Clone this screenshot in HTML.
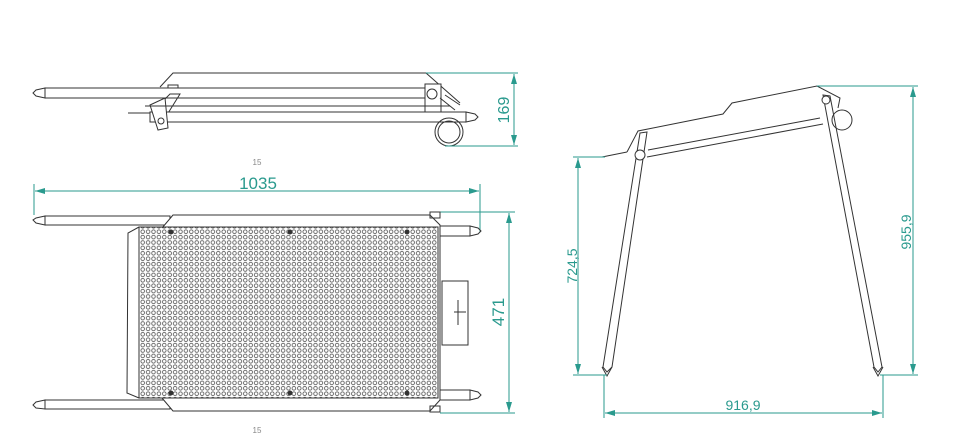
<!DOCTYPE html>
<html><head><meta charset="utf-8"><style>
html,body{margin:0;padding:0;background:#fff;}
svg{display:block}
text{font-family:"Liberation Sans",sans-serif;}
</style></head><body>
<svg width="961" height="445" viewBox="0 0 961 445" xmlns="http://www.w3.org/2000/svg">
<defs>
<marker id="a" viewBox="0 0 10 6" refX="10" refY="3" markerWidth="10" markerHeight="6" orient="auto-start-reverse" markerUnits="userSpaceOnUse"><path d="M0,0 L10,3 L0,6z" fill="#2a9a8e"/></marker>
<pattern id="perf" width="5.4" height="5.4" patternUnits="userSpaceOnUse" x="140" y="229">
<circle cx="2.7" cy="2.7" r="1.8" fill="none" stroke="#444" stroke-width="0.75"/>
</pattern>
</defs>
<g fill="none" stroke="#333" stroke-width="1">
<path d="M160,87 L173,73 L426,73 L460,103"/>
<rect x="45" y="88" width="385" height="10" fill="#fff"/>
<path d="M45,88 L36,90 L33,93 L36,96 L45,98z"/>
<rect x="425" y="84" width="16" height="28" fill="#fff"/>
<circle cx="432" cy="94" r="5"/>
<path d="M150,114 L170,94 L180,94 L165,118"/>
<rect x="150" y="112" width="316" height="10" fill="#fff"/>
<path d="M466,112 L475,114 L478,117 L475,120 L466,122z"/>
<path d="M128,113 L150,113" />
<path d="M150,105 L165,98 L168,128 L158,130z" fill="#fff"/>
<circle cx="161" cy="121" r="3"/>
<path d="M145,106 L450,106"/>
<circle cx="449" cy="132" r="14"/>
<circle cx="449" cy="132" r="11"/>
<path d="M440,98 L455,110 M445,95 L460,105"/>
<rect x="168" y="85" width="10" height="3"/>
</g>
<g stroke="#2a9a8e" stroke-width="1" fill="none">
<path d="M426,73 L518,73 M445,146 L518,146"/>
<path d="M514,74 L514,145" marker-start="url(#a)" marker-end="url(#a)"/>
</g>
<text x="0" y="0" transform="translate(509,110) rotate(-90)" font-size="16" fill="#2a9a8e" text-anchor="middle">169</text>
<text x="257" y="165" font-size="8" fill="#888" text-anchor="middle">15</text>
<text x="257" y="433" font-size="8" fill="#888" text-anchor="middle">15</text>
<g stroke="#2a9a8e" stroke-width="1" fill="none">
<path d="M34,184 L34,215 M480,184 L480,232"/>
<path d="M35,191 L479,191" marker-start="url(#a)" marker-end="url(#a)"/>
<path d="M440,212 L515,212 M440,413 L515,413"/>
<path d="M509,213 L509,412" marker-start="url(#a)" marker-end="url(#a)"/>
</g>
<text x="258" y="189" font-size="17" fill="#2a9a8e" text-anchor="middle">1035</text>
<text transform="translate(504,312) rotate(-90)" font-size="17" fill="#2a9a8e" text-anchor="middle">471</text>
<g fill="none" stroke="#333" stroke-width="1">
<rect x="45" y="216" width="125" height="9"/>
<path d="M45,216 L36,218 L33,220 L36,223 L45,225z"/>
<rect x="45" y="400" width="125" height="9"/>
<path d="M45,400 L36,402 L33,405 L36,408 L45,409z"/>
<rect x="440" y="226" width="30" height="10"/>
<path d="M470,226 L478,228 L481,231 L478,234 L470,236z"/>
<rect x="440" y="390" width="30" height="10"/>
<path d="M470,390 L478,392 L481,395 L478,398 L470,400z"/>
<path d="M162,228 L173,215 L430,215 L440,225 L440,400 L430,411 L173,411 L162,398" fill="#fff"/>
<path d="M139,227 L128,233 L127,393 L139,398"/>
<rect x="139" y="227" width="299" height="171" fill="url(#perf)" stroke="#333"/>
<rect x="442" y="281" width="26" height="64" fill="#fff"/>
<path d="M458,300 L458,325 M454,312 L466,312"/>
<rect x="430" y="212" width="10" height="6"/><rect x="430" y="406" width="10" height="6"/>
</g>
<g fill="#333">
<circle cx="171" cy="232" r="2.5"/><circle cx="290" cy="232" r="2.5"/><circle cx="407" cy="232" r="2.5"/>
<circle cx="171" cy="393" r="2.5"/><circle cx="290" cy="393" r="2.5"/><circle cx="407" cy="393" r="2.5"/>
</g>
<g fill="none" stroke="#333" stroke-width="1">
<path d="M602,157 L627,152 M627,152 L638,131 L723,114 L732,103 L817,86 L840,98 L838,108"/>
<path d="M647,157 L823,124"/>
<path d="M648,150 L820,118"/>
<path d="M640,133 L647,132 L612,367 L607,372 L603,367z" fill="#fff"/>
<path d="M823,95 L830,96 L882,367 L878,372 L874,367z" fill="#fff"/>
<circle cx="640" cy="155" r="5" fill="#fff"/>
<circle cx="826" cy="100" r="4" fill="#fff"/>
<circle cx="842" cy="120" r="10"/>
<path d="M602,367 L607,376 L612,367 M873,367 L878,376 L883,367"/>
</g>
<g stroke="#2a9a8e" stroke-width="1" fill="none">
<path d="M573,157 L605,157 M573,375 L607,375"/>
<path d="M578,158 L578,374" marker-start="url(#a)" marker-end="url(#a)"/>
<path d="M817,86 L918,86 M880,375 L918,375"/>
<path d="M913,87 L913,374" marker-start="url(#a)" marker-end="url(#a)"/>
<path d="M604,375 L604,418 M883,375 L883,418"/>
<path d="M605,413 L882,413" marker-start="url(#a)" marker-end="url(#a)"/>
</g>
<text transform="translate(577,266) rotate(-90)" font-size="14" fill="#2a9a8e" text-anchor="middle">724,5</text>
<text transform="translate(911,232) rotate(-90)" font-size="14" fill="#2a9a8e" text-anchor="middle">955,9</text>
<text x="743" y="410" font-size="14" fill="#2a9a8e" text-anchor="middle">916,9</text>
</svg>
</body></html>
